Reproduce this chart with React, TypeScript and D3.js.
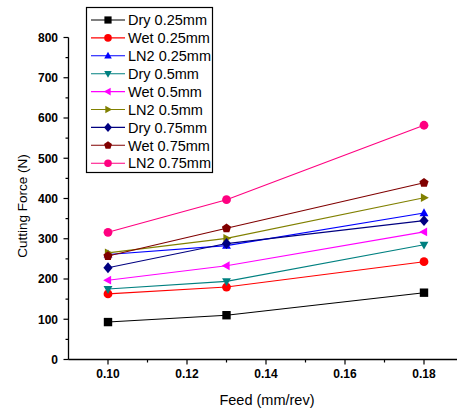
import React, { useEffect, useRef } from 'react';
import * as d3 from 'd3';

// --- Data ---
const feeds = [0.1, 0.13, 0.18];
const seriesNames = [
  'Dry 0.25mm', 'Wet 0.25mm', 'LN2 0.25mm',
  'Dry 0.5mm', 'Wet 0.5mm', 'LN2 0.5mm',
  'Dry 0.75mm', 'Wet 0.75mm', 'LN2 0.75mm',
];
const dry025 = [93, 110, 166];
const wet025 = [163, 180, 243];
const ln2025 = [261, 283, 364];
const dry05 = [175, 194, 285];
const wet05 = [197, 233, 317];
const ln205 = [265, 301, 402];
const dry075 = [228, 288, 345];
const wet075 = [257, 326, 439];
const ln2075 = [316, 397, 582];
const seriesValues = [dry025, wet025, ln2025, dry05, wet05, ln205, dry075, wet075, ln2075];
const seriesColors = ['#000000', '#FF0000', '#0000FF', '#008080', '#FF00FF', '#808000', '#000080', '#800000', '#FF0080'];
const seriesSymbols = ['square', 'circle', 'up', 'down', 'left', 'right', 'diamond', 'pentagon', 'circle'];
const yTicks = [0, 100, 200, 300, 400, 500, 600, 700, 800];
const xTicks = [0.1, 0.12, 0.14, 0.16, 0.18];

// --- Helper: symbol path centred on 0,0 ---
const symbolPath = (type, r) => {
  const poly = pts => 'M' + pts.map(p => p.join(',')).join('L') + 'Z';
  switch (type) {
    case 'square': return poly([[-r, -r], [r, -r], [r, r], [-r, r]]);
    case 'circle': return d3.symbol(d3.symbolCircle, Math.PI * r * r * 1.1)();
    case 'up': return poly([[0, -r * 1.15], [r * 1.05, r * 0.75], [-r * 1.05, r * 0.75]]);
    case 'down': return poly([[0, r * 1.15], [r * 1.05, -r * 0.75], [-r * 1.05, -r * 0.75]]);
    case 'left': return poly([[-r * 1.15, 0], [r * 0.75, -r * 1.05], [r * 0.75, r * 1.05]]);
    case 'right': return poly([[r * 1.15, 0], [-r * 0.75, -r * 1.05], [-r * 0.75, r * 1.05]]);
    case 'diamond': return poly([[0, -r * 1.3], [r * 1.1, 0], [0, r * 1.3], [-r * 1.1, 0]]);
    case 'pentagon': {
      const pts = d3.range(5).map(i => {
        const a = -Math.PI / 2 + i * 2 * Math.PI / 5;
        return [Math.cos(a) * r * 1.15, Math.sin(a) * r * 1.15];
      });
      return poly(pts);
    }
    default: return '';
  }
};

const App = () => {
  const ref = useRef(null);

  useEffect(() => {
    const svg = d3.select(ref.current);
    svg.selectAll('*').remove();

    const width = 457, height = 410;
    const x = d3.scaleLinear().domain([0.09, 0.19]).range([68.5, 463.5]);
    const y = d3.scaleLinear().domain([0, 800]).range([359.5, 37.5]);
    const font = 'Arial, "Liberation Sans", sans-serif';

    svg.attr('width', width).attr('height', height);
    svg.append('rect').attr('width', width).attr('height', height).attr('fill', '#fff');

    // --- Y axis ---
    const yAxis = svg.append('g');
    yAxis.append('line').attr('x1', x(0.09)).attr('x2', x(0.09))
      .attr('y1', y(0)).attr('y2', y(800)).attr('stroke', '#000').attr('stroke-width', 1.3);
    d3.range(0, 801, 50).forEach(v => {
      const major = v % 100 === 0;
      yAxis.append('line').attr('x1', x(0.09)).attr('x2', x(0.09) - (major ? 5 : 3))
        .attr('y1', y(v)).attr('y2', y(v)).attr('stroke', '#000').attr('stroke-width', 1.2);
    });
    yAxis.selectAll('text.yt').data(yTicks).enter().append('text')
      .attr('class', 'yt')
      .attr('x', 58).attr('y', d => y(d)).attr('dy', '0.36em')
      .attr('text-anchor', 'end').attr('font-family', font)
      .attr('font-weight', 'bold').attr('font-size', 12).text(d => d);

    // --- X axis ---
    const xAxis = svg.append('g');
    xAxis.append('line').attr('x1', x(0.09)).attr('x2', x(0.19))
      .attr('y1', y(0)).attr('y2', y(0)).attr('stroke', '#000').attr('stroke-width', 1.3);
    d3.range(0, 10).map(i => 0.1 + i * 0.01).forEach((v, i) => {
      const major = i % 2 === 0;
      xAxis.append('line').attr('x1', x(v)).attr('x2', x(v))
        .attr('y1', y(0)).attr('y2', y(0) + (major ? 5 : 3)).attr('stroke', '#000').attr('stroke-width', 1.2);
    });
    xAxis.selectAll('text.xt').data(xTicks).enter().append('text')
      .attr('class', 'xt')
      .attr('x', d => x(d)).attr('y', 378)
      .attr('text-anchor', 'middle').attr('font-family', font)
      .attr('font-weight', 'bold').attr('font-size', 12).text(d => d3.format('.2f')(d));

    // --- Axis titles ---
    svg.append('text').attr('x', 267).attr('y', 405)
      .attr('text-anchor', 'middle').attr('font-family', font).attr('font-size', 14.5)
      .text('Feed (mm/rev)');
    svg.append('text').attr('transform', 'translate(27,206) rotate(-90)')
      .attr('text-anchor', 'middle').attr('font-family', font).attr('font-size', 13.5)
      .text('Cutting Force (N)');

    // --- Series ---
    const line = d3.line().x(d => x(d[0])).y(d => y(d[1]));
    seriesValues.forEach((vals, si) => {
      const pts = feeds.map((f, i) => [f, vals[i]]);
      svg.append('path').attr('d', line(pts)).attr('fill', 'none')
        .attr('stroke', seriesColors[si]).attr('stroke-width', 1.1);
      svg.selectAll(`.m${si}`).data(pts).enter().append('path')
        .attr('class', `m${si}`)
        .attr('transform', d => `translate(${x(d[0])},${y(d[1])})`)
        .attr('d', symbolPath(seriesSymbols[si], 4.2))
        .attr('fill', seriesColors[si]);
    });

    // --- Legend ---
    const lg = svg.append('g');
    lg.append('rect').attr('x', 86.5).attr('y', 7.5).attr('width', 126).attr('height', 165)
      .attr('fill', '#fff').attr('stroke', '#000').attr('stroke-width', 1.2);
    seriesNames.forEach((name, i) => {
      const cy = 20 + i * 17.9;
      lg.append('line').attr('x1', 91).attr('x2', 125).attr('y1', cy).attr('y2', cy)
        .attr('stroke', seriesColors[i]).attr('stroke-width', 1.1);
      lg.append('path').attr('transform', `translate(108,${cy})`)
        .attr('d', symbolPath(seriesSymbols[i], 3.6)).attr('fill', seriesColors[i]);
      lg.append('text').attr('x', 128).attr('y', cy).attr('dy', '0.36em')
        .attr('font-family', font).attr('font-size', 14.5).text(name);
    });
  }, []);

  return (
    <svg ref={ref} style={{ position: 'absolute', left: 0, top: 0, display: 'block' }} />
  );
};

export default App;
